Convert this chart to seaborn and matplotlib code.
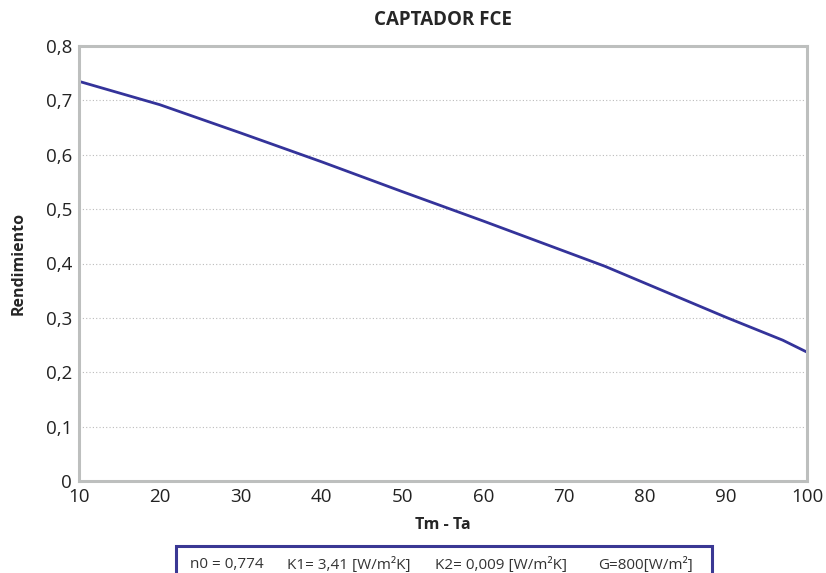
import matplotlib
matplotlib.use('Agg')
import matplotlib.pyplot as plt
import seaborn as sns
import pandas as pd
from matplotlib.patches import Rectangle
from matplotlib.ticker import FuncFormatter

# data
tm_ta = [10, 20, 30, 40, 50, 60, 75, 90, 97, 100]
rendimiento = [0.735, 0.692, 0.640, 0.587, 0.532, 0.478, 0.395, 0.301, 0.259, 0.237]
info_labels = ['n0 = 0,774', 'K1= 3,41 [W/m²K]', 'K2= 0,009 [W/m²K]', 'G=800[W/m²]']

df = pd.DataFrame({'x': tm_ta, 'y': rendimiento})

sns.set_style('white')
plt.rcParams['font.family'] = ['Open Sans', 'DejaVu Sans']

fig = plt.figure(figsize=(8.26, 5.73), dpi=100)
ax = fig.add_axes([79 / 826, 1 - 481 / 573, (807 - 79) / 826, (481 - 46) / 573])

navy = '#34339a'
sns.lineplot(data=df, x='x', y='y', ax=ax, color=navy, linewidth=2)

ax.set_xlim(10, 100)
ax.set_ylim(0, 0.8)
ax.set_xticks(range(10, 101, 10))
ax.set_yticks([i / 10 for i in range(9)])
ax.yaxis.set_major_formatter(FuncFormatter(lambda v, p: '0' if v == 0 else f'{v:.1f}'.replace('.', ',')))
ax.tick_params(axis='both', labelsize=13.5, colors='#222222', length=0, pad=5)
ax.grid(axis='y', color='#bbbbbb', linestyle=(0, (1, 2)), linewidth=0.8)
ax.grid(axis='x', visible=False)
for s in ax.spines.values():
    s.set_color('#bdbfbe')
    s.set_linewidth(2.2)

ax.set_xlabel('Tm - Ta', fontsize=11.5, fontweight='bold', labelpad=8)
ax.set_ylabel('Rendimiento', fontsize=11.5, fontweight='bold', labelpad=14)
ax.set_title('CAPTADOR FCE', fontsize=13.5, fontweight='bold', pad=15)

# parameter box at the bottom (cut by the figure edge)
fig.patches.append(Rectangle((176 / 826, -0.05), (712 - 176) / 826, 0.05 + (573 - 546) / 573,
                             transform=fig.transFigure, fill=False, edgecolor='#3a3894', linewidth=2.2))
xs = [190, 287, 435, 598]
for xp, lab in zip(xs, info_labels):
    fig.text(xp / 826, 1 - 565 / 573, lab, ha='left', va='center', fontsize=11, color='#333333')

fig.savefig('out.png', dpi=100)
